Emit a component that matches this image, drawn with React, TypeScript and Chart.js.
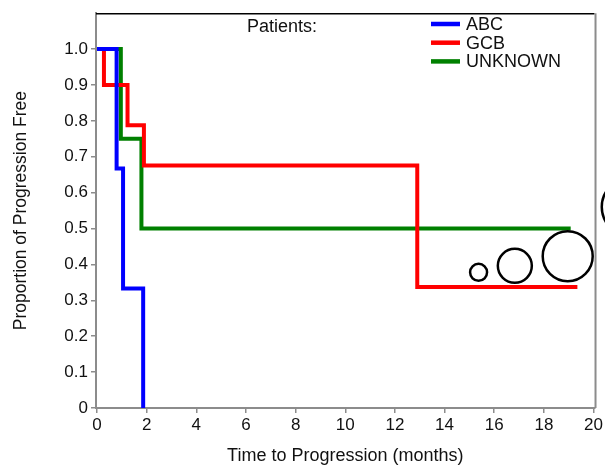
import { useEffect, useRef } from "react";
import { Chart, registerables } from "chart.js";

Chart.register(...registerables);

const seriesNames = ["ABC", "GCB", "UNKNOWN"];
const seriesColors = ["#0000ff", "#ff0000", "#008000"];
const abcTimes = [0, 0.79, 1.05, 1.86];
const abcValues = [1, 0.667, 0.333, 0];
const gcbTimes = [0, 0.28, 1.23, 1.89, 12.9, 19.35];
const gcbValues = [1, 0.9, 0.788, 0.676, 0.337, 0.337];
const unkTimes = [0, 0.96, 1.79, 19.08];
const unkValues = [1, 0.75, 0.5, 0.5];
const bubbleX = [15.37, 16.83, 18.96];
const bubbleY = [0.378, 0.396, 0.423];
const bubbleR = [8.5, 17, 25];
// bubble lying outside the plot, cut off by the right edge of the picture
const outerBubbleX = [21.5];
const outerBubbleY = [0.56];
const outerBubbleR = [29];
const xTicks = [0, 2, 4, 6, 8, 10, 12, 14, 16, 18, 20];
const yTicks = [0, 0.1, 0.2, 0.3, 0.4, 0.5, 0.6, 0.7, 0.8, 0.9, 1.0];
const yTickLabels = ["0", "0.1", "0.2", "0.3", "0.4", "0.5", "0.6", "0.7", "0.8", "0.9", "1.0"];
const legendTitle = "Patients:";
const xTitle = "Time to Progression (months)";
const yTitle = "Proportion of Progression Free";

const FONT = "'Liberation Sans', Arial, sans-serif";
const AXIS_GRAY = "#8c8c8c";

const toPoints = (xs: number[], ys: number[]) => xs.map((x, i) => ({ x, y: ys[i] }));

const framePlugin = {
  id: "frame",
  afterDraw(chart: any) {
    const { ctx, chartArea, scales } = chart;
    ctx.save();
    ctx.strokeStyle = "#000";
    ctx.lineWidth = 1.5;
    ctx.beginPath();
    ctx.moveTo(chartArea.left, chartArea.top + 0.5);
    ctx.lineTo(chartArea.right, chartArea.top + 0.5);
    ctx.stroke();
    ctx.strokeStyle = AXIS_GRAY;
    ctx.lineWidth = 2;
    ctx.beginPath();
    ctx.moveTo(chartArea.right + 1, chartArea.top);
    ctx.lineTo(chartArea.right + 1, chartArea.bottom);
    ctx.stroke();
    // outer bubble
    ctx.strokeStyle = "#000";
    ctx.lineWidth = 2.5;
    outerBubbleX.forEach((x, i) => {
      const px = scales.x.getPixelForValue(x);
      const py = scales.y.getPixelForValue(outerBubbleY[i]);
      ctx.beginPath();
      ctx.arc(px, py, outerBubbleR[i], 0, Math.PI * 2);
      ctx.stroke();
    });
    // legend
    ctx.font = `18px ${FONT}`;
    ctx.textBaseline = "middle";
    ctx.textAlign = "left";
    ctx.fillStyle = "#111";
    ctx.fillText(legendTitle, 247, 27);
    seriesNames.forEach((name, i) => {
      const y = 24 + i * 18.7;
      ctx.strokeStyle = seriesColors[i];
      ctx.lineWidth = 4.5;
      ctx.beginPath();
      ctx.moveTo(431, y);
      ctx.lineTo(460, y);
      ctx.stroke();
      ctx.fillStyle = "#111";
      ctx.fillText(name, 466, y + 1);
    });
    ctx.restore();
  },
};

export default function App() {
  const ref = useRef<HTMLCanvasElement>(null);
  useEffect(() => {
    document.body.style.margin = "0";
    const series = [toPoints(abcTimes, abcValues), toPoints(gcbTimes, gcbValues), toPoints(unkTimes, unkValues)];
    const lineSets = series.map((data, i) => ({
      type: "line" as const,
      label: seriesNames[i],
      data,
      borderColor: seriesColors[i],
      backgroundColor: seriesColors[i],
      borderWidth: 4,
      stepped: "before" as const,
      pointRadius: 0,
      fill: false,
      order: 2,
    }));
    const bubbleSet = {
      type: "bubble" as const,
      label: "bubbles",
      data: bubbleX.map((x, i) => ({ x, y: bubbleY[i], r: bubbleR[i] })),
      borderColor: "#000",
      backgroundColor: "rgba(0,0,0,0)",
      borderWidth: 2.5,
      clip: false as any,
      order: 1,
    };
    const chart = new Chart(ref.current!, {
      type: "line",
      data: { datasets: [...lineSets, bubbleSet] as any },
      options: {
        animation: false,
        responsive: false,
        devicePixelRatio: 1,
        layout: { autoPadding: false, padding: { top: 10, right: 8, left: 0, bottom: 0 } },
        plugins: { legend: { display: false }, tooltip: { enabled: false } },
        scales: {
          x: {
            type: "linear",
            min: -0.04,
            max: 20.04,
            afterBuildTicks: (s: any) => {
              s.ticks = xTicks.map((v) => ({ value: v }));
            },
            afterFit: (s: any) => {
              s.height = 57;
            },
            ticks: {
              font: { family: FONT, size: 17 },
              color: "#111",
              padding: 2,
              maxRotation: 0,
              autoSkip: false,
              callback: (v: any) => String(v),
            },
            grid: { display: true, drawOnChartArea: false, drawTicks: true, tickLength: 5, color: AXIS_GRAY, lineWidth: 1.5 },
            border: { display: true, color: AXIS_GRAY, width: 2 },
            title: {
              display: true,
              text: xTitle,
              font: { family: FONT, size: 18, lineHeight: 1 },
              color: "#111",
              padding: { top: 0, bottom: 0 },
            },
          },
          y: {
            type: "linear",
            min: 0,
            max: 1.1,
            afterBuildTicks: (s: any) => {
              s.ticks = yTicks.map((v) => ({ value: v }));
            },
            afterFit: (s: any) => {
              s.width = 96;
            },
            ticks: {
              font: { family: FONT, size: 17 },
              color: "#111",
              padding: 3,
              autoSkip: false,
              callback: (_v: any, i: number) => yTickLabels[i],
            },
            grid: { display: true, drawOnChartArea: false, drawTicks: true, tickLength: 5, color: AXIS_GRAY, lineWidth: 1.5 },
            border: { display: true, color: AXIS_GRAY, width: 2 },
            title: {
              display: true,
              text: yTitle,
              font: { family: FONT, size: 17.5, lineHeight: 1 },
              color: "#111",
              padding: { top: 12, bottom: 0 },
            },
          },
        },
      },
      plugins: [framePlugin],
    });
    return () => chart.destroy();
  }, []);
  return (
    <div style={{ width: 605, height: 465, background: "#fff" }}>
      <canvas ref={ref} width={605} height={465} style={{ width: 605, height: 465, display: "block" }} />
    </div>
  );
}
